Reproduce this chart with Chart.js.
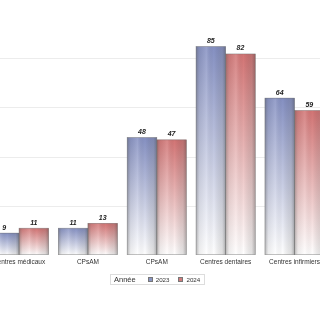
<!DOCTYPE html>
<html><head><meta charset="utf-8">
<script src="https://cdn.jsdelivr.net/npm/chart.js@4.4.1/dist/chart.umd.min.js"></script>
<style>
html,body{margin:0;padding:0;width:320px;height:320px;overflow:hidden;background:#fff;font-family:"Liberation Sans",Arial,sans-serif;}
#wrap{position:absolute;left:-40px;top:0;width:395px;height:320px;}
#legend{position:absolute;left:110px;top:274px;width:95px;height:11px;border:1px solid #ddd;box-sizing:border-box;font-size:7px;color:#333;display:flex;align-items:center;white-space:nowrap;}
#legend .t{font-size:7.5px;margin-left:3px;margin-right:12px;flex:0 0 auto;}
#legend .b{display:inline-block;flex:0 0 5px;width:5px;height:5px;border:1px solid #777;box-sizing:border-box;margin-right:3px;}
#legend .i{margin-right:9px;font-size:6.2px;flex:0 0 auto;}
</style></head>
<body>
<div id="wrap"><canvas id="c"></canvas></div>
<div id="legend"><span class="t">Année</span><span class="b" style="background:#8a96c4"></span><span class="i">2023</span><span class="b" style="background:#d07c7c"></span><span class="i">2024</span></div>
<script>
const categories = ["Centres médicaux", "CPsAM", "CPsAM", "Centres dentaires", "Centres infirmiers"];
const series2023 = [9, 11, 48, 85, 64];
const series2024 = [11, 13, 47, 82, 59];
const seriesNames = ["2023", "2024"];
const yTicks = [0, 20, 40, 60, 80];

function grad(top){
  return (ctx) => {
    const chart = ctx.chart;
    if (!chart.chartArea || ctx.type !== 'data') return top;
    const y = chart.scales.y;
    const yt = y.getPixelForValue(ctx.raw), yb = y.getPixelForValue(0);
    const g = chart.ctx.createLinearGradient(0, yt, 0, yb);
    g.addColorStop(0, top);
    g.addColorStop(1, '#ffffff');
    return g;
  };
}

const shade = {
  id: 'shade',
  afterDatasetsDraw(chart){
    const c = chart.ctx;
    chart.data.datasets.forEach((ds, di) => {
      const meta = chart.getDatasetMeta(di);
      meta.data.forEach((bar, i) => {
        const w = bar.width, x0 = bar.x - w/2, top = bar.y, base = bar.base;
        const g = c.createLinearGradient(x0, 0, x0 + w, 0);
        g.addColorStop(0, 'rgba(70,70,70,0.4)');
        g.addColorStop(0.12, 'rgba(120,120,120,0.12)');
        g.addColorStop(0.35, 'rgba(255,255,255,0.15)');
        g.addColorStop(0.6, 'rgba(0,0,0,0)');
        g.addColorStop(0.88, 'rgba(90,90,90,0.18)');
        g.addColorStop(1, 'rgba(60,60,60,0.42)');
        c.save();
        c.fillStyle = g;
        c.fillRect(x0, top, w, base - top);
        c.strokeStyle = 'rgba(110,110,110,0.7)';
        c.lineWidth = 0.6;
        c.strokeRect(x0, top, w, base - top);
        c.fillStyle = '#222';
        c.font = 'italic bold 7px "Liberation Sans", Arial, sans-serif';
        c.textAlign = 'center';
        c.textBaseline = 'middle';
        c.fillText(String(ds.data[i]), bar.x, top - 5.5);
        c.restore();
      });
    });
  }
};

new Chart(document.getElementById('c'), {
  type: 'bar',
  data: {
    labels: categories,
    datasets: [
      {label: seriesNames[0], data: series2023, backgroundColor: grad('#8590c2'), borderWidth: 0},
      {label: seriesNames[1], data: series2024, backgroundColor: grad('#d27474'), borderWidth: 0}
    ]
  },
  options: {
    responsive: true,
    maintainAspectRatio: false,
    animation: false,
    layout: {padding: {left: 24.6, right: 26, top: 9.75, bottom: 51}},
    plugins: {legend: {display: false}, tooltip: {enabled: false}},
    datasets: {bar: {categoryPercentage: 0.86, barPercentage: 1}},
    scales: {
      x: {
        grid: {display: false, drawTicks: false},
        border: {display: false},
        ticks: {padding: 3, color: '#333', font: {size: 6.5, family: '"Liberation Sans", Arial, sans-serif'}, maxRotation: 0, autoSkip: false}
      },
      y: {
        min: 0, max: 100,
        afterBuildTicks: (s) => { s.ticks = yTicks.map(v => ({value: v})); },
        ticks: {display: false},
        border: {display: false},
        grid: {drawTicks: false, color: (ctx) => ctx.tick && ctx.tick.value === 0 ? 'rgba(0,0,0,0)' : '#ececec', lineWidth: 1}
      }
    }
  },
  plugins: [shade]
});
</script>
</body></html>
